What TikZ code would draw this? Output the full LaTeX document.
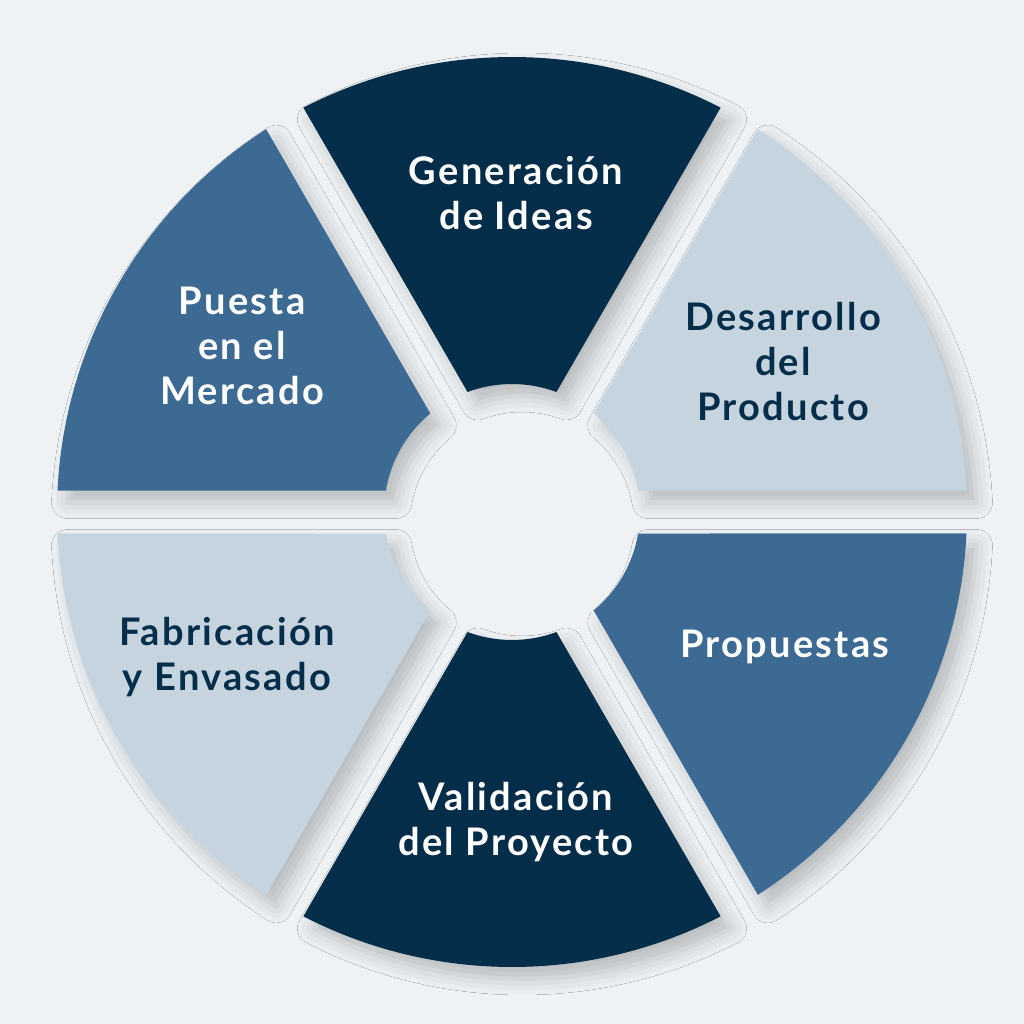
\documentclass[tikz,border=0pt]{standalone}
\usepackage{fontspec}
\setmainfont[LetterSpace=6]{Lato}
\usetikzlibrary{shadows.blur}
\definecolor{CicloFondo}{HTML}{EEF2F5}
\definecolor{CicloNavy}{HTML}{032D48}
\definecolor{CicloAzul}{HTML}{3D6A93}
\definecolor{CicloClaro}{HTML}{C6D4E0}

\begin{document}
\begin{tikzpicture}[
            x=0.5pt, y=0.5pt,
            seg/.style={blur shadow={shadow xshift=5pt, shadow yshift=-6pt, shadow blur radius=8pt, shadow opacity=22}},
            lbl/.style={align=center, font=\fontsize{19pt}{22.5pt}\selectfont\bfseries, text=white},
            lbldark/.style={lbl, text=CicloNavy}
        ]
            \fill[CicloFondo] (-512,-512) rectangle (512,512);
            \useasboundingbox (-512,-512) rectangle (512,512);
            % half gap 21.5, outer radius 455, inner radius 128
            \pgfmathsetmacro{\dout}{asin(21.5/455)}
            \pgfmathsetmacro{\din}{asin(21.5/128)}
            \foreach \a/\c in {0/CicloClaro, 60/CicloNavy, 120/CicloAzul, 180/CicloClaro, 240/CicloNavy, 300/CicloAzul}{
                \fill[seg, fill=\c] ({\a+\din}:128) -- ({\a+\dout}:455)
                    arc[start angle={\a+\dout}, end angle={\a+60-\dout}, radius=455]
                    -- ({\a+60-\din}:128)
                    arc[start angle={\a+60-\din}, end angle={\a+\din}, radius=128] -- cycle;
            }
            \node[lbl] (gen) at (4,319) {Generación\\de Ideas};
            \node[lbldark] (des) at (271,150) {Desarrollo\\del\\Producto};
            \node[lbl] (pro) at (273,-135) {Propuestas};
            \node[lbl] (val) at (4,-310) {Validación\\del Proyecto};
            \node[lbldark] (fab) at (-285,-145) {Fabricación\\y Envasado};
            \node[lbl] (pue) at (-270,166) {Puesta\\en el\\Mercado};
        \end{tikzpicture}
\end{document}
